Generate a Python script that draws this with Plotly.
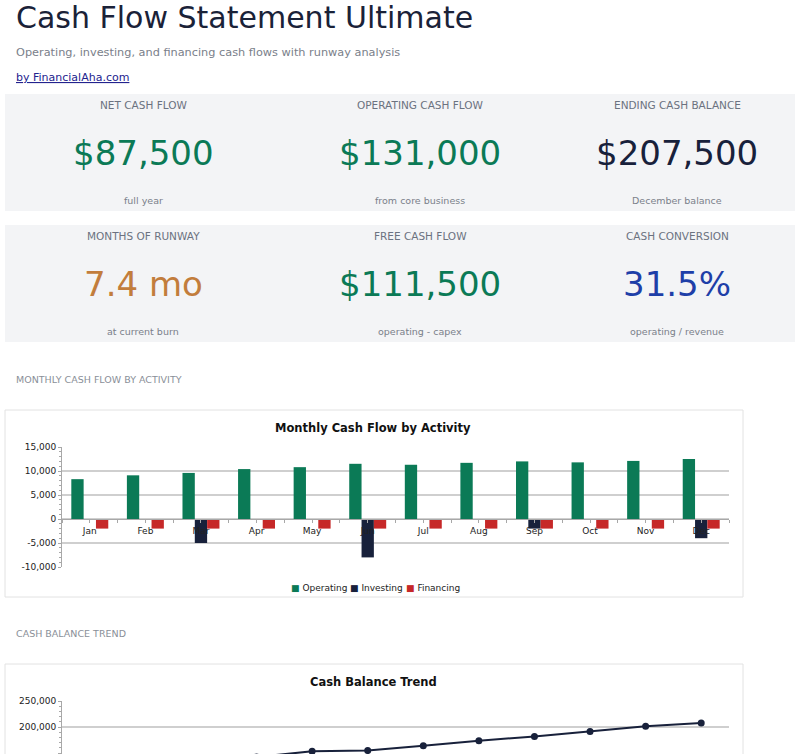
import plotly.graph_objects as go

# ---------------- data ----------------
MONTHS = ["Jan", "Feb", "Mar", "Apr", "May", "Jun", "Jul", "Aug", "Sep", "Oct", "Nov", "Dec"]
OPERATING = [8300, 9100, 9600, 10400, 10800, 11500, 11300, 11700, 12000, 11800, 12100, 12500]
INVESTING = [0, 0, -5000, 0, 0, -8000, 0, 0, -2000, 0, 0, -4000]
FINANCING = [-2000, -2000, -2000, -2000, -2000, -2000, -2000, -2000, -2000, -2000, -2000, -2000]
BALANCE = [124300, 131400, 134000, 142400, 153200, 154700, 164000, 173700, 181700, 191500, 201600, 207500]

BAR_TICKVALS = [-10000, -5000, 0, 5000, 10000, 15000]
BAR_TICKTEXT = ["-10,000", "-5,000", "0", "5,000", "10,000", "15,000"]
BAL_TICKVALS = [150000, 200000, 250000]
BAL_TICKTEXT = ["150,000", "200,000", "250,000"]

KPI_LABELS = ["NET CASH FLOW", "OPERATING CASH FLOW", "ENDING CASH BALANCE",
              "MONTHS OF RUNWAY", "FREE CASH FLOW", "CASH CONVERSION"]
KPI_VALUES = ["$87,500", "$131,000", "$207,500", "7.4 mo", "$111,500", "31.5%"]
KPI_SUBS = ["full year", "from core business", "December balance",
            "at current burn", "operating - capex", "operating / revenue"]

SERIES_NAMES = ["Operating", "Investing", "Financing"]

GREEN = "#0b7a56"
NAVY = "#18213b"
RED = "#c62828"
ORANGE = "#c27d3c"
BLUE = "#1e3fa8"
KPI_COLORS = [GREEN, GREEN, NAVY, ORANGE, GREEN, BLUE]
SERIES_COLORS = [GREEN, NAVY, RED]

FONT = "DejaVu Sans"
W, H = 800, 754


def px(x):
    return x / W


def py(y):
    return 1 - y / H


fig = go.Figure()

# ---------------- bar chart ----------------
xs = list(range(len(MONTHS)))
for name, vals, col in zip(SERIES_NAMES, [OPERATING, INVESTING, FINANCING], SERIES_COLORS):
    fig.add_trace(go.Bar(x=xs, y=vals, name=name, marker=dict(color=col, line=dict(width=0)),
                         xaxis="x", yaxis="y", showlegend=False))

# ---------------- line chart ----------------
fig.add_trace(go.Scatter(x=xs, y=BALANCE, mode="lines+markers", name="Cash Balance",
                         line=dict(color=NAVY, width=2), marker=dict(size=7, color=NAVY),
                         xaxis="x2", yaxis="y2", showlegend=False))

AXIS_GRAY = "#a8a8a8"
GRID = "#cfcfcf"

# ---------------- shapes ----------------
shapes = []
for (y0, y1) in [(94, 211), (225, 342)]:
    shapes.append(dict(type="rect", xref="paper", yref="paper",
                       x0=px(5), x1=px(795), y0=py(y1), y1=py(y0),
                       fillcolor="#f3f4f6", line=dict(width=0), layer="below"))
for (y0, y1) in [(410, 597), (664, 800)]:
    shapes.append(dict(type="rect", xref="paper", yref="paper",
                       x0=px(5), x1=px(743), y0=py(y1), y1=py(y0),
                       fillcolor="rgba(0,0,0,0)", line=dict(width=1, color="#e2e2e2"), layer="below"))

# ---------------- annotations ----------------
ann = []


def text(x, y, s, size, color, anchor="center", weight="normal"):
    ann.append(dict(x=px(x), y=py(y), xref="paper", yref="paper", text=s, showarrow=False,
                    xanchor=anchor, yanchor="middle",
                    font=dict(family=FONT, size=size, color=color, weight=weight)))


text(13.5, 17, "Cash Flow Statement Ultimate", 30, "#1a2238", "left")
text(14, 52, "Operating, investing, and financing cash flows with runway analysis", 11.3, "#7a808a", "left")
text(14, 78, "<a href='https://www.financialaha.com' style='color:#23238e'><u>by FinancialAha.com</u></a>",
     11, "#23238e", "left")

col_x = [143, 420, 677]
row_y = [(105, 153, 200), (236, 284, 331)]
for i in range(6):
    r, c = divmod(i, 3)
    ly, vy, sy = row_y[r]
    text(col_x[c], ly, KPI_LABELS[i], 10.5, "#6b7280")
    text(col_x[c], vy, KPI_VALUES[i], 34, KPI_COLORS[i])
    text(col_x[c], sy, KPI_SUBS[i], 9.5, "#7a808a")

text(14, 379, "MONTHLY CASH FLOW BY ACTIVITY", 9.5, "#8a8f98", "left")
text(14, 633, "CASH BALANCE TREND", 9.5, "#8a8f98", "left")
text(373, 428, "Monthly Cash Flow by Activity", 11.5, "#111111", weight="bold")
text(373, 682, "Cash Balance Trend", 11.5, "#111111", weight="bold")

# legend (bar chart)
for lx, name, col in zip([289, 348, 404], SERIES_NAMES, SERIES_COLORS):
    text(lx, 588, f"<span style='color:{col}'>■</span> {name}", 9, "#222222", "left")

TICKFONT = dict(size=9, color="#222222")


def inner_y(overlay, anchor, rng, tickvals, minor_dtick):
    # mirror axis carrying inward ticks so tick marks cross the axis line
    return dict(overlaying=overlay, anchor=anchor, side="left", range=rng, automargin=False,
                tickmode="array", tickvals=tickvals, ticks="inside", ticklen=3, tickcolor=AXIS_GRAY,
                showticklabels=False, showgrid=False, showline=False, zeroline=False,
                minor=dict(tickmode="linear", tick0=0, dtick=minor_dtick, ticks="inside", ticklen=2,
                           tickcolor=AXIS_GRAY, showgrid=False))


fig.update_layout(
    template="plotly_white",
    width=W, height=H,
    margin=dict(l=0, r=0, t=0, b=0, autoexpand=False),
    paper_bgcolor="white", plot_bgcolor="rgba(0,0,0,0)",
    font=dict(family=FONT, size=9, color="#222222"),
    barmode="group", bargap=0.335, bargroupgap=0,
    shapes=shapes, annotations=ann,
    showlegend=False,
    xaxis=dict(domain=[px(62), px(729)], range=[-0.5, 11.5], anchor="free", position=py(518.7),
               automargin=False,
               tickmode="array", tickvals=xs, ticktext=MONTHS, ticks="outside", ticklen=3,
               tickcolor=AXIS_GRAY, showline=True, linecolor=AXIS_GRAY, linewidth=1,
               showgrid=False, zeroline=False, tickfont=TICKFONT,
               minor=dict(tickmode="linear", tick0=-0.5, dtick=1, ticks="outside", ticklen=3,
                          tickcolor=AXIS_GRAY, showgrid=False),
               fixedrange=True),
    xaxis3=dict(overlaying="x", anchor="free", position=py(518.7), range=[-0.5, 11.5],
                automargin=False, tickmode="array", tickvals=xs, ticks="inside", ticklen=3,
                tickcolor=AXIS_GRAY, showticklabels=False, showgrid=False, showline=False,
                zeroline=False,
                minor=dict(tickmode="linear", tick0=-0.5, dtick=1, ticks="inside", ticklen=3,
                           tickcolor=AXIS_GRAY, showgrid=False)),
    yaxis=dict(domain=[py(567), py(447)], range=[-10000, 15000], anchor="x", automargin=False,
               tickmode="array", tickvals=BAR_TICKVALS, ticktext=BAR_TICKTEXT,
               ticks="outside", ticklen=3, tickcolor=AXIS_GRAY,
               showline=True, linecolor=AXIS_GRAY, showgrid=True, gridcolor=GRID, gridwidth=1.5,
               zeroline=False, tickfont=TICKFONT,
               minor=dict(tickmode="linear", tick0=0, dtick=1000, ticks="outside", ticklen=2,
                          tickcolor=AXIS_GRAY, showgrid=False),
               fixedrange=True),
    yaxis3=inner_y("y", "x", [-10000, 15000], BAR_TICKVALS, 1000),
    xaxis2=dict(domain=[px(62), px(729)], range=[-0.5, 11.5], anchor="y2", automargin=False,
                showticklabels=False, showline=False, showgrid=False, zeroline=False, ticks=""),
    yaxis2=dict(domain=[0, py(701)], range=[148077, 250000], anchor="x2", automargin=False,
                tickmode="array", tickvals=BAL_TICKVALS, ticktext=BAL_TICKTEXT,
                ticks="outside", ticklen=3, tickcolor=AXIS_GRAY,
                showline=True, linecolor=AXIS_GRAY, showgrid=True, gridcolor=GRID, gridwidth=1.5,
                zeroline=False, tickfont=TICKFONT,
                minor=dict(tickmode="linear", tick0=0, dtick=10000, ticks="outside", ticklen=2,
                           tickcolor=AXIS_GRAY, showgrid=False)),
    yaxis4=inner_y("y2", "x2", [148077, 250000], BAL_TICKVALS, 10000),
)

fig.write_html("out.html", config={"displayModeBar": False})
